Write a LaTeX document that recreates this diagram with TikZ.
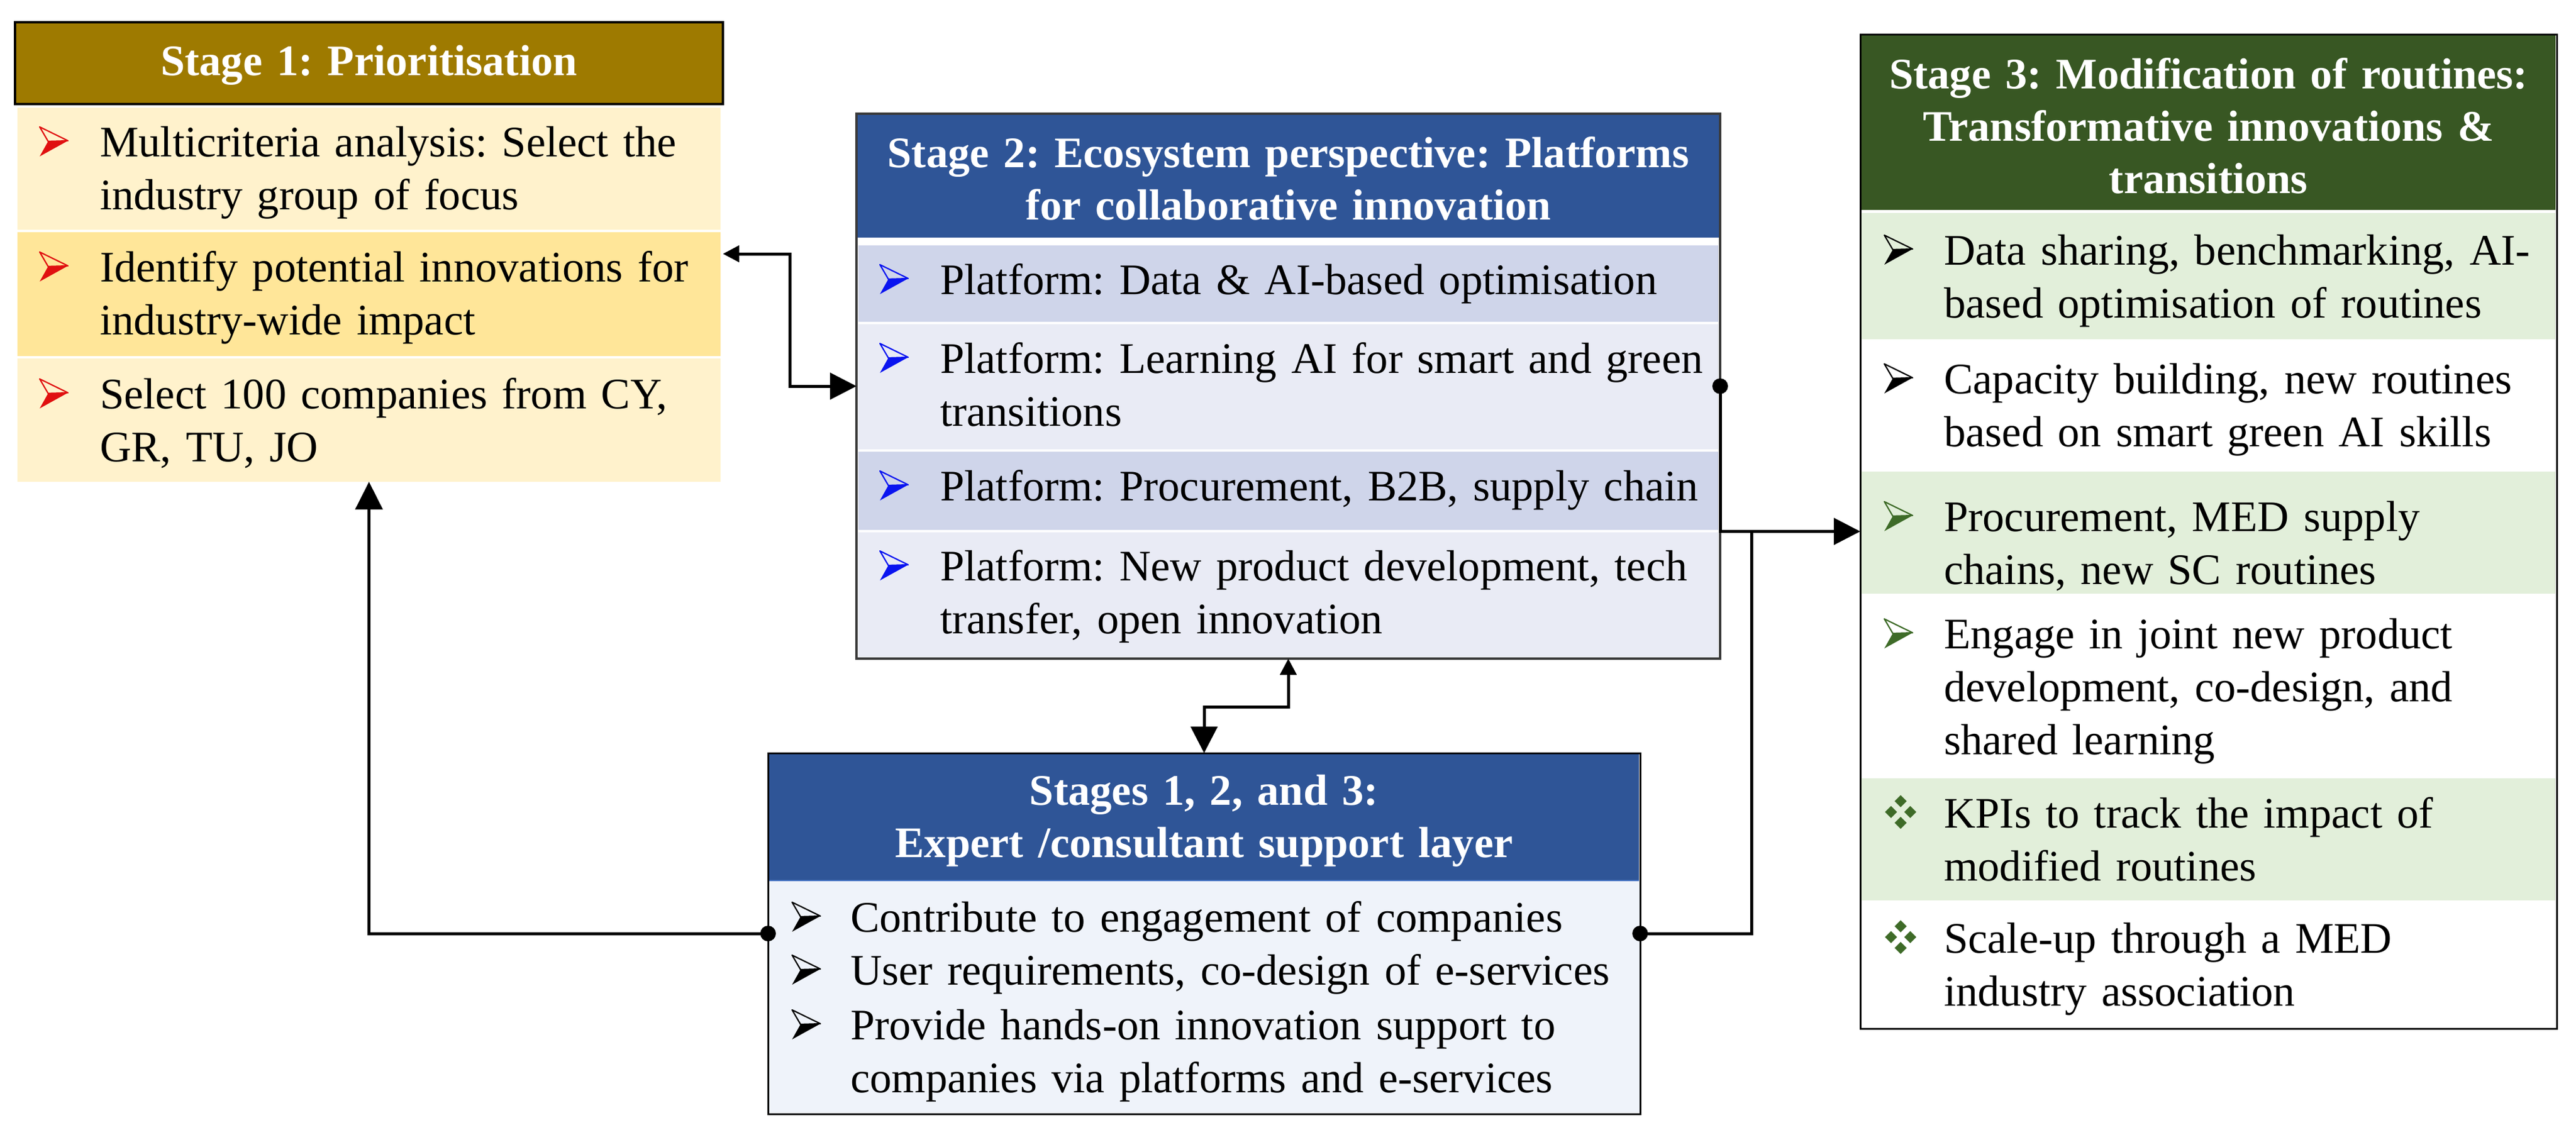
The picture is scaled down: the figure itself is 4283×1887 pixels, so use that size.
\documentclass[tikz,border=0pt]{standalone}
\usepackage{fontspec}
\setmainfont{Liberation Serif}
\usetikzlibrary{arrows.meta,calc}
\frenchspacing
\definecolor{sonegold}{HTML}{9E7A00}
\definecolor{sonelight}{HTML}{FFF2CC}
\definecolor{sonemid}{HTML}{FFE699}
\definecolor{sonered}{HTML}{E01010}
\definecolor{stwoblue}{HTML}{2F5597}
\definecolor{stwodark}{HTML}{CFD5EA}
\definecolor{stwolight}{HTML}{E9EBF5}
\definecolor{stwoborder}{HTML}{3A3A3A}
\definecolor{bulblue}{HTML}{0A14F0}
\definecolor{sthreegreen}{HTML}{385723}
\definecolor{sthreelight}{HTML}{E2EFDA}
\definecolor{bulgreen}{HTML}{3E6B28}
\definecolor{sallbody}{HTML}{EFF3FA}
\definecolor{sallline}{HTML}{4472C4}
\newcommand\ArrB[3]{%
  \fill[#1] (#2+14,#3-25) -- (#2+47,#3-26) -- (#2,#3) -- cycle;
  \draw[#1, line width=2.2pt, line join=round] (#2,#3-49) -- (#2+47,#3-26) -- (#2+14,#3-25) -- cycle;
}
\newcommand\DiaB[3]{%
  \foreach \dx/\dy in {26/-44, 26/-8, 10/-26, 42/-26} {
    \fill[#1] (#2+\dx,#3+\dy-10) -- (#2+\dx+10,#3+\dy) -- (#2+\dx,#3+\dy+10) -- (#2+\dx-10,#3+\dy) -- cycle;
  }%
}
\begin{document}
\frenchspacing
\begin{tikzpicture}[x=1pt,y=-1pt,
  rowbox/.style={inner sep=0pt, outer sep=0pt, anchor=north west, draw=none},
  bodytxt/.style={font=\fontsize{72.5}{88}\selectfont\frenchspacing, text width=#1, align=left, inner sep=0pt, anchor=base west, text=black},
  bodytxt/.default=1500pt,
  headtxt/.style={font=\fontsize{72.5}{87}\selectfont\bfseries\frenchspacing, text=white, text width=#1, align=center, inner sep=0pt, anchor=base},
  conn/.style={line width=5pt, black},
  bigtip/.style={-{Triangle[length=44pt,width=44pt]}},
  twotip/.style={{Triangle[length=27pt,width=27pt]}-{Triangle[length=44pt,width=44pt]}}
]
\path[use as bounding box, fill=white] (0,0) rectangle (4283,1887);

% ---------------- Stage 1 ----------------
\node[rowbox, fill=sonegold, draw=black, line width=4pt, minimum width=1177pt, minimum height=136pt] (s1head) at (25,37) {};
\node[headtxt=1150pt] (s1title) at (613.5,125) {Stage 1: Prioritisation};
\node[rowbox, fill=sonelight, minimum width=1169pt, minimum height=203pt] (s1r1) at (29,179) {};
\node[rowbox, fill=sonemid, minimum width=1169pt, minimum height=206pt] (s1r2) at (29,386) {};
\node[rowbox, fill=sonelight, minimum width=1169pt, minimum height=205pt] (s1r3) at (29,596) {};
\node[bodytxt] (s1t1) at (166,260) {Multicriteria analysis: Select the\\industry group of focus};
\node[bodytxt] (s1t2) at (166,468) {Identify potential innovations for\\industry-wide impact};
\node[bodytxt] (s1t3) at (166,679) {Select 100 companies from CY,\\GR, TU, JO};
\ArrB{sonered}{66}{260}
\ArrB{sonered}{66}{468}
\ArrB{sonered}{66}{679}

% ---------------- Stage 2 ----------------
\node[rowbox, fill=white, draw=stwoborder, line width=3.5pt, minimum width=1436pt, minimum height=906pt] (s2box) at (1424,189) {};
\node[rowbox, fill=stwoblue, minimum width=1432pt, minimum height=204pt] (s2head) at (1426,191) {};
\node[headtxt=1420pt] (s2title) at (2142,278) {Stage 2: Ecosystem perspective: Platforms\\for collaborative innovation};
\node[rowbox, fill=stwodark, minimum width=1430pt, minimum height=127pt] (s2r1) at (1427,408) {};
\node[rowbox, fill=stwolight, minimum width=1430pt, minimum height=208pt] (s2r2) at (1427,539) {};
\node[rowbox, fill=stwodark, minimum width=1430pt, minimum height=130pt] (s2r3) at (1427,751) {};
\node[rowbox, fill=stwolight, minimum width=1430pt, minimum height=208pt] (s2r4) at (1427,885) {};
\node[bodytxt] (s2t1) at (1563,489) {Platform: Data \& AI-based optimisation};
\node[bodytxt] (s2t2) at (1563,620) {Platform: Learning AI for smart and green\\transitions};
\node[bodytxt] (s2t3) at (1563,832) {Platform: Procurement, B2B, supply chain};
\node[bodytxt] (s2t4) at (1563,965) {Platform: New product development, tech\\transfer, open innovation};
\ArrB{bulblue}{1463}{489}
\ArrB{bulblue}{1463}{620}
\ArrB{bulblue}{1463}{832}
\ArrB{bulblue}{1463}{965}

% ---------------- Stage 3 ----------------
\node[rowbox, fill=white, draw=black, line width=3pt, minimum width=1158pt, minimum height=1653pt] (s3box) at (3093,57) {};
\node[rowbox, fill=sthreegreen, minimum width=1154pt, minimum height=290pt] (s3head) at (3095,59) {};
\node[headtxt=1150pt] (s3title) at (3672,147) {Stage 3: Modification of routines:\\Transformative innovations \&\\transitions};
\node[rowbox, fill=sthreelight, minimum width=1154pt, minimum height=210pt] (s3r1) at (3095,354) {};
\node[rowbox, fill=white, minimum width=1154pt, minimum height=214pt] (s3r2) at (3095,568) {};
\node[rowbox, fill=sthreelight, minimum width=1154pt, minimum height=203pt] (s3r3) at (3095,784) {};
\node[rowbox, fill=white, minimum width=1154pt, minimum height=307pt] (s3r4) at (3095,987) {};
\node[rowbox, fill=sthreelight, minimum width=1154pt, minimum height=203pt] (s3r5) at (3095,1294) {};
\node[rowbox, fill=white, minimum width=1154pt, minimum height=210pt] (s3r6) at (3095,1497) {};
\node[bodytxt] (s3t1) at (3232,440) {Data sharing, benchmarking, AI-\\based optimisation of routines};
\node[bodytxt] (s3t2) at (3232,654) {Capacity building, new routines\\based on smart green AI skills};
\node[bodytxt] (s3t3) at (3232,883) {Procurement, MED supply\\chains, new SC routines};
\node[bodytxt] (s3t4) at (3232,1078) {Engage in joint new product\\development, co-design, and\\shared learning};
\node[bodytxt] (s3t5) at (3232,1376) {KPIs to track the impact of\\modified routines};
\node[bodytxt] (s3t6) at (3232,1584) {Scale-up through a MED\\industry association};
\ArrB{black}{3133}{440}
\ArrB{black}{3133}{654}
\ArrB{bulgreen}{3133}{883}
\ArrB{bulgreen}{3133}{1078}
\DiaB{bulgreen}{3134}{1376}
\DiaB{bulgreen}{3134}{1584}

% ---------------- Stages 1, 2 and 3 ----------------
\node[rowbox, fill=sallbody, draw=black, line width=3pt, minimum width=1450pt, minimum height=600pt] (s123) at (1277,1252) {};
\node[rowbox, fill=stwoblue, minimum width=1446pt, minimum height=210pt] (s123head) at (1279,1254) {};
\draw[sallline, line width=2pt] (s123head.south west) -- (s123head.south east);
\node[headtxt=1420pt] (s123title) at (2002,1338) {Stages 1, 2, and 3:\\Expert /consultant support layer};
\node[bodytxt] (s123t1) at (1414,1549) {Contribute to engagement of companies};
\node[bodytxt] (s123t2) at (1414,1637) {User requirements, co-design of e-services};
\node[bodytxt] (s123t3) at (1414,1728) {Provide hands-on innovation support to\\companies via platforms and e-services};
\ArrB{black}{1317}{1549}
\ArrB{black}{1317}{1637}
\ArrB{black}{1317}{1728}

% ---------------- Connectors ----------------
\coordinate (a1) at ([xshift=4pt,yshift=-36pt]s1r2.north east);
\coordinate (j1) at ([xshift=-181pt]s3box.west);
\draw[conn, twotip] (a1) -| ($(s2box.west)+(-111,0)$) -- (s2box.west);
\draw[conn, bigtip] (s2box.east) |- (s3box.west);
\fill (s2box.east) circle[radius=13pt];
\draw[conn] (s123.east) -| (j1);
\fill (s123.east) circle[radius=13pt];
\draw[conn, -{Triangle[length=46pt,width=45pt]}] (s123.west) -| (s1r3.south);
\fill (s123.west) circle[radius=13pt];
\draw[conn, twotip] (s2box.south) -- ++(0,80) -| (s123.north);
\end{tikzpicture}
\end{document}
